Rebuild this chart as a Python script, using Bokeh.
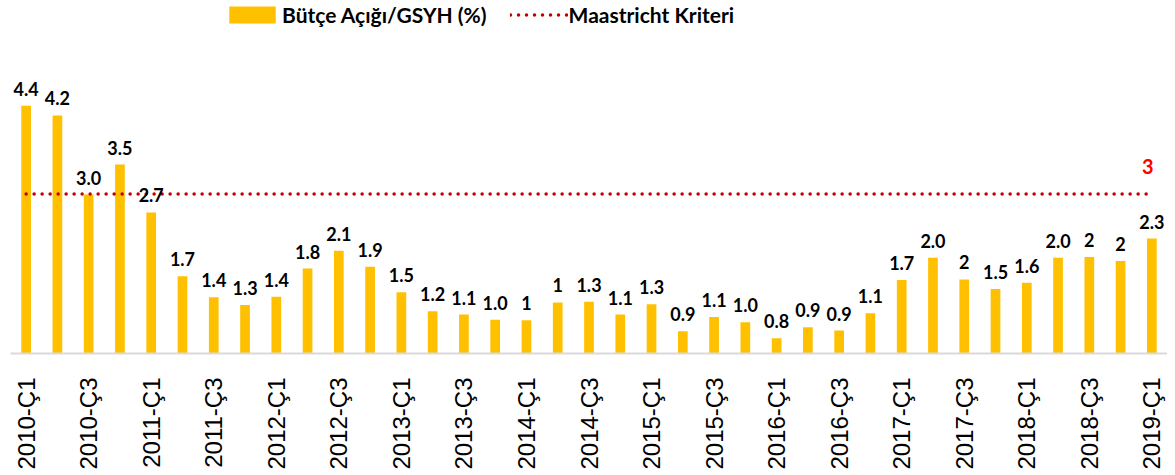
from bokeh.plotting import figure
from bokeh.models import Legend, LegendItem, FixedTicker, ColumnDataSource, Range1d
from bokeh.core.properties import value
from bokeh.embed import file_html
from bokeh.resources import INLINE
import math

categories = ["2010-Ç1", "2010-Ç2", "2010-Ç3", "2010-Ç4",
              "2011-Ç1", "2011-Ç2", "2011-Ç3", "2011-Ç4",
              "2012-Ç1", "2012-Ç2", "2012-Ç3", "2012-Ç4",
              "2013-Ç1", "2013-Ç2", "2013-Ç3", "2013-Ç4",
              "2014-Ç1", "2014-Ç2", "2014-Ç3", "2014-Ç4",
              "2015-Ç1", "2015-Ç2", "2015-Ç3", "2015-Ç4",
              "2016-Ç1", "2016-Ç2", "2016-Ç3", "2016-Ç4",
              "2017-Ç1", "2017-Ç2", "2017-Ç3", "2017-Ç4",
              "2018-Ç1", "2018-Ç2", "2018-Ç3", "2018-Ç4",
              "2019-Ç1"]

deficit = [4.38, 4.23, 2.99, 3.46, 2.71, 1.71, 1.38, 1.26, 1.39, 1.83,
           2.11, 1.86, 1.46, 1.16, 1.11, 1.03, 1.02, 1.30, 1.31, 1.11,
           1.27, 0.85, 1.07, 0.99, 0.74, 0.91, 0.86, 1.13, 1.65, 2.00,
           1.66, 1.51, 1.61, 2.00, 2.01, 1.95, 2.30]

deficit_labels = ["4.4", "4.2", "3.0", "3.5", "2.7", "1.7", "1.4", "1.3", "1.4", "1.8",
                  "2.1", "1.9", "1.5", "1.2", "1.1", "1.0", "1", "1", "1.3", "1.1",
                  "1.3", "0.9", "1.1", "1.0", "0.8", "0.9", "0.9", "1.1", "1.7", "2.0",
                  "2", "1.5", "1.6", "2.0", "2", "2", "2.3"]

criterion = 3

x_idx = list(range(len(categories)))
src = ColumnDataSource(dict(x=x_idx, top=deficit, lab=deficit_labels,
                            crit=[criterion] * len(categories)))

p = figure(frame_width=1157, frame_height=353, output_backend="svg",
           toolbar_location=None,
           x_range=Range1d(-0.5, len(categories) - 0.5),
           y_range=Range1d(0.5, 6.03),
           min_border_left=10, min_border_right=0, min_border_top=0, min_border_bottom=0)
p.outline_line_color = None
p.xgrid.visible = False
p.ygrid.visible = False
p.yaxis.visible = False
p.background_fill_color = "white"

bars = p.vbar(x="x", top="top", bottom=0, width=0.31, source=src,
              fill_color="#FFC000", line_color=None)
crit_line = p.line(x="x", y="crit", source=src, line_color="#C00000",
                   line_width=3.5, line_dash="0 8", line_cap="round")

p.text(x="x", y="top", text="lab", source=src, text_align="center",
       text_baseline="alphabetic", y_offset=-17,
       text_font=value("Lato"), text_font_style="bold", text_font_size="18px",
       text_color="black")

p.text(x=[x_idx[-1]], y=[criterion], text=[str(criterion)], text_align="center",
       text_baseline="alphabetic", y_offset=-27, x_offset=-4,
       text_font=value("Lato"), text_font_style="bold", text_font_size="20px",
       text_color="#FF0000")

ax = p.xaxis[0]
ax.ticker = FixedTicker(ticks=x_idx[::2])
ax.major_label_overrides = {i: categories[i] for i in x_idx}
ax.major_label_orientation = math.pi / 2
ax.major_label_text_font = "Liberation Sans"
ax.major_label_text_font_size = "24px"
ax.major_label_text_color = "black"
ax.major_label_standoff = 18
ax.major_tick_line_color = None
ax.minor_tick_line_color = None
ax.axis_line_color = "#D9D9D9"
ax.axis_line_width = 2

legend = Legend(items=[LegendItem(label="Bütçe Açığı/GSYH (%)", renderers=[bars]),
                       LegendItem(label="Maastricht Kriteri", renderers=[crit_line])],
                location=(213, 326), orientation="horizontal",
                glyph_width=58, glyph_height=21, label_standoff=1, spacing=23,
                padding=0, margin=0, border_line_color=None,
                background_fill_alpha=0,
                label_text_font="Lato", label_text_font_style="bold",
                label_text_font_size="21px", label_text_color="black")
p.add_layout(legend)

open("out.html", "w").write(file_html(p, INLINE))
